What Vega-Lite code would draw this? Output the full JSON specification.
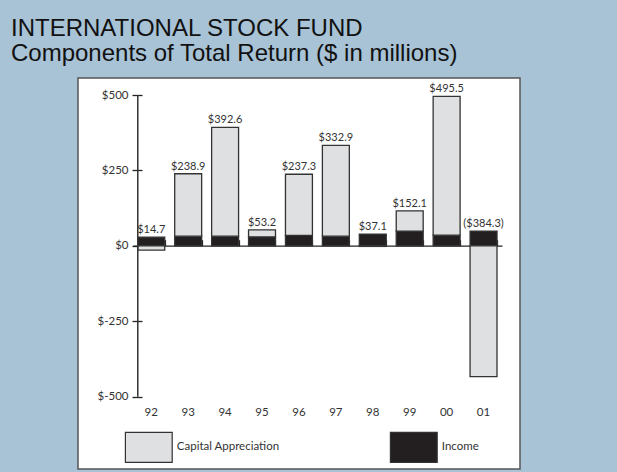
{
  "$schema": "https://vega.github.io/schema/vega-lite/v6.json",
  "width": 442,
  "height": 391,
  "autosize": {"type": "none"},
  "padding": {"left": 78, "top": 78, "right": 97, "bottom": 3},
  "background": "#a8c2d6",
  "title": {
    "text": ["INTERNATIONAL STOCK FUND", "Components of Total Return ($ in millions)"],
    "anchor": "start",
    "frame": "group",
    "orient": "top",
    "baseline": "alphabetic",
    "offset": 19.5,
    "dx": -67,
    "dy": 26.5,
    "font": "Liberation Sans",
    "fontSize": 24,
    "fontWeight": "normal",
    "color": "#111111",
    "lineHeight": 25
  },
  "config": {
    "view": {"fill": "white", "stroke": "#555555", "strokeWidth": 1.5},
    "font": "Lato",
    "axis": {"labelFont": "Lato", "labelColor": "#333333", "labelFontSize": 11.5, "grid": false, "title": null}
  },
  "datasets": {
    "components": [
      {"year": "92", "component": "Income", "value": 28.7},
      {"year": "92", "component": "Capital Appreciation", "value": -14},
      {"year": "93", "component": "Income", "value": 32},
      {"year": "93", "component": "Capital Appreciation", "value": 206.9},
      {"year": "94", "component": "Income", "value": 32},
      {"year": "94", "component": "Capital Appreciation", "value": 360.6},
      {"year": "95", "component": "Income", "value": 30},
      {"year": "95", "component": "Capital Appreciation", "value": 23.2},
      {"year": "96", "component": "Income", "value": 35},
      {"year": "96", "component": "Capital Appreciation", "value": 202.3},
      {"year": "97", "component": "Income", "value": 32},
      {"year": "97", "component": "Capital Appreciation", "value": 300.9},
      {"year": "98", "component": "Income", "value": 39},
      {"year": "98", "component": "Capital Appreciation", "value": -1.9},
      {"year": "99", "component": "Income", "value": 49},
      {"year": "99", "component": "Capital Appreciation", "value": 67},
      {"year": "00", "component": "Income", "value": 35.5},
      {"year": "00", "component": "Capital Appreciation", "value": 460},
      {"year": "01", "component": "Income", "value": 49},
      {"year": "01", "component": "Capital Appreciation", "value": -433.3}
    ],
    "totals": [
      {"year": "92", "top": 28.7, "label": "$14.7"},
      {"year": "93", "top": 238.9, "label": "$238.9"},
      {"year": "94", "top": 392.6, "label": "$392.6"},
      {"year": "95", "top": 53.2, "label": "$53.2"},
      {"year": "96", "top": 237.3, "label": "$237.3"},
      {"year": "97", "top": 332.9, "label": "$332.9"},
      {"year": "98", "top": 39, "label": "$37.1"},
      {"year": "99", "top": 116, "label": "$152.1"},
      {"year": "00", "top": 495.5, "label": "$495.5"},
      {"year": "01", "top": 49, "label": "($384.3)"}
    ],
    "axisline": [
      {"year": "92", "lo": -500, "hi": 500}
    ]
  },
  "layer": [
    {
      "data": {"name": "components"},
      "mark": {"type": "bar", "stroke": "#333333", "strokeWidth": 1.3},
      "encoding": {
        "x": {
          "field": "year",
          "type": "nominal",
          "scale": {
            "domain": ["92", "93", "94", "95", "96", "97", "98", "99", "00", "01"],
            "range": [54.8, 424],
            "paddingInner": 0.27,
            "paddingOuter": 0.135
          },
          "axis": {
            "orient": "bottom",
            "offset": -72.3,
            "ticks": false,
            "domain": false,
            "labelPadding": 10,
            "labelAngle": 0
          }
        },
        "y": {
          "field": "value",
          "type": "quantitative",
          "stack": "zero",
          "scale": {"domain": [-500, 500], "range": [318.7, 17], "nice": false},
          "axis": {
            "orient": "left",
            "offset": -54,
            "values": [-500, -250, 0, 250, 500],
            "labelExpr": "'$' + datum.value",
            "domain": false,
            "tickSize": -10,
            "tickColor": "#222222",
            "tickWidth": 1.3,
            "labelPadding": 14
          }
        },
        "color": {
          "field": "component",
          "type": "nominal",
          "scale": {"domain": ["Capital Appreciation", "Income"], "range": ["#dfe0e2", "#231f20"]},
          "legend": {
            "orient": "none",
            "direction": "horizontal",
            "legendX": 54.8,
            "legendY": 353,
            "title": null,
            "padding": 0,
            "symbolType": "M-1.56,-1H1.56V1H-1.56Z",
            "symbolSize": 900,
            "symbolStrokeColor": "#333333",
            "symbolStrokeWidth": 1.2,
            "symbolOpacity": 1,
            "labelFont": "Lato",
            "labelFontSize": 11.5,
            "labelColor": "#333333",
            "labelOffset": 12,
            "columnPadding": 108
          }
        },
        "order": {"field": "component", "sort": "descending"}
      }
    },
    {
      "data": {"name": "axisline"},
      "mark": {"type": "rule", "stroke": "#333333", "strokeWidth": 1.5},
      "encoding": {
        "x": {
          "field": "year",
          "type": "nominal",
          "bandPosition": 0,
          "axis": {
            "orient": "top",
            "offset": -167.7,
            "labels": false,
            "ticks": true,
            "tickBand": "extent",
            "tickSize": 6,
            "tickColor": "#222222",
            "tickWidth": 1.2,
            "domain": true,
            "domainColor": "#222222",
            "domainWidth": 1.3
          }
        },
        "y": {"field": "lo", "type": "quantitative"},
        "y2": {"field": "hi"}
      }
    },
    {
      "data": {"name": "totals"},
      "mark": {"type": "text", "baseline": "alphabetic", "dy": -4, "font": "Lato", "fontSize": 11, "color": "#333333"},
      "encoding": {
        "x": {"field": "year", "type": "nominal", "axis": null},
        "y": {"field": "top", "type": "quantitative"},
        "text": {"field": "label"}
      }
    }
  ],
  "resolve": {"axis": {"x": "independent"}}
}
